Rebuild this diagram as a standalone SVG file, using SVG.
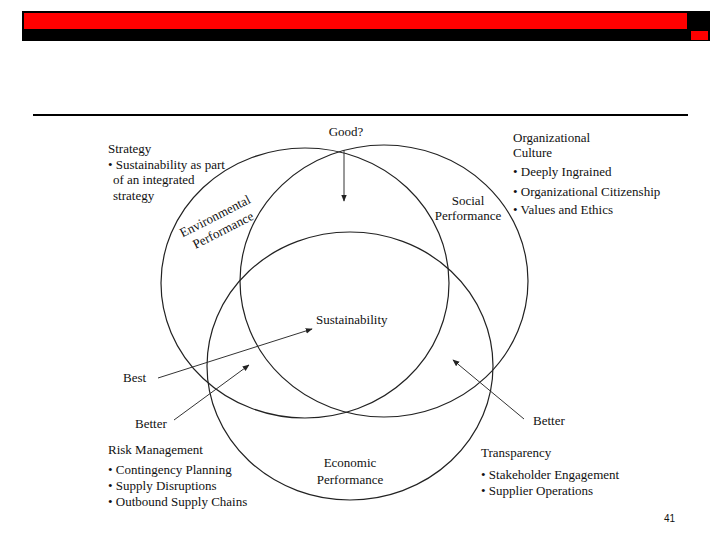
<svg xmlns="http://www.w3.org/2000/svg" width="720" height="540" viewBox="0 0 720 540">
<defs>
<style>
text{font-family:"Liberation Serif","Times New Roman",serif;font-size:13px;fill:#111}
.c{fill:none;stroke:#222;stroke-width:1.2}
.a{stroke:#333;stroke-width:1;fill:none;marker-end:url(#ah)}
.m{text-anchor:middle}
</style>
<marker id="ah" viewBox="0 0 10 10" refX="9" refY="5" markerWidth="7" markerHeight="7" orient="auto" markerUnits="userSpaceOnUse">
<path d="M0,1 L10,5 L0,9 z" fill="#222"/>
</marker>
</defs>
<rect width="720" height="540" fill="#fff"/>
<g id="header">
<rect x="22" y="11" width="688" height="30" fill="#000"/>
<rect x="24" y="13" width="663" height="16" fill="#f00"/>
<rect x="691" y="31" width="17" height="9" fill="#f00"/>
<rect x="33" y="114" width="655" height="2" fill="#000"/>
</g>
<g id="circles">
<g id="environmental"><ellipse class="c" cx="305" cy="283" rx="144" ry="135"/>
<text transform="translate(217,220) rotate(-27)" class="m">Environmental</text>
<text transform="translate(225,234) rotate(-27)" class="m">Performance</text></g>
<g id="social"><ellipse class="c" cx="384" cy="281" rx="144" ry="136"/>
<text x="468" y="205" class="m">Social</text>
<text x="468" y="220" class="m">Performance</text></g>
<g id="economic"><ellipse class="c" cx="350" cy="366" rx="143" ry="134"/>
<text x="350" y="467" class="m">Economic</text>
<text x="350" y="484" class="m">Performance</text></g>
</g>
<g id="connectors">
<line class="a" x1="344" y1="150" x2="344" y2="201"/>
<line class="a" x1="158" y1="378" x2="312" y2="329"/>
<line class="a" x1="174" y1="420" x2="249" y2="365"/>
<line class="a" x1="524" y1="419" x2="453" y2="360"/>
</g>
<g id="good"><text x="346" y="136" class="m">Good?</text></g>
<g id="sustainability"><text x="316" y="324">Sustainability</text></g>
<g id="best"><text x="123" y="382">Best</text></g>
<g id="better-left"><text x="135" y="428">Better</text></g>
<g id="better-right"><text x="533" y="425">Better</text></g>
<g id="strategy">
<text x="108" y="153">Strategy</text>
<text x="108" y="169">• Sustainability as part</text>
<text x="113" y="184">of an integrated</text>
<text x="113" y="200">strategy</text>
</g>
<g id="culture">
<text x="513" y="142">Organizational</text>
<text x="513" y="157">Culture</text>
<text x="513" y="176">• Deeply Ingrained</text>
<text x="513" y="196">• Organizational Citizenship</text>
<text x="513" y="214">• Values and Ethics</text>
</g>
<g id="risk">
<text x="108" y="454">Risk Management</text>
<text x="108" y="474">• Contingency Planning</text>
<text x="108" y="490">• Supply Disruptions</text>
<text x="108" y="506">• Outbound Supply Chains</text>
</g>
<g id="transparency">
<text x="481" y="457">Transparency</text>
<text x="481" y="479">• Stakeholder Engagement</text>
<text x="481" y="495">• Supplier Operations</text>
</g>
<text x="664" y="522" style="font-family:'Liberation Sans',Arial,sans-serif;font-size:10px">41</text>
</svg>
